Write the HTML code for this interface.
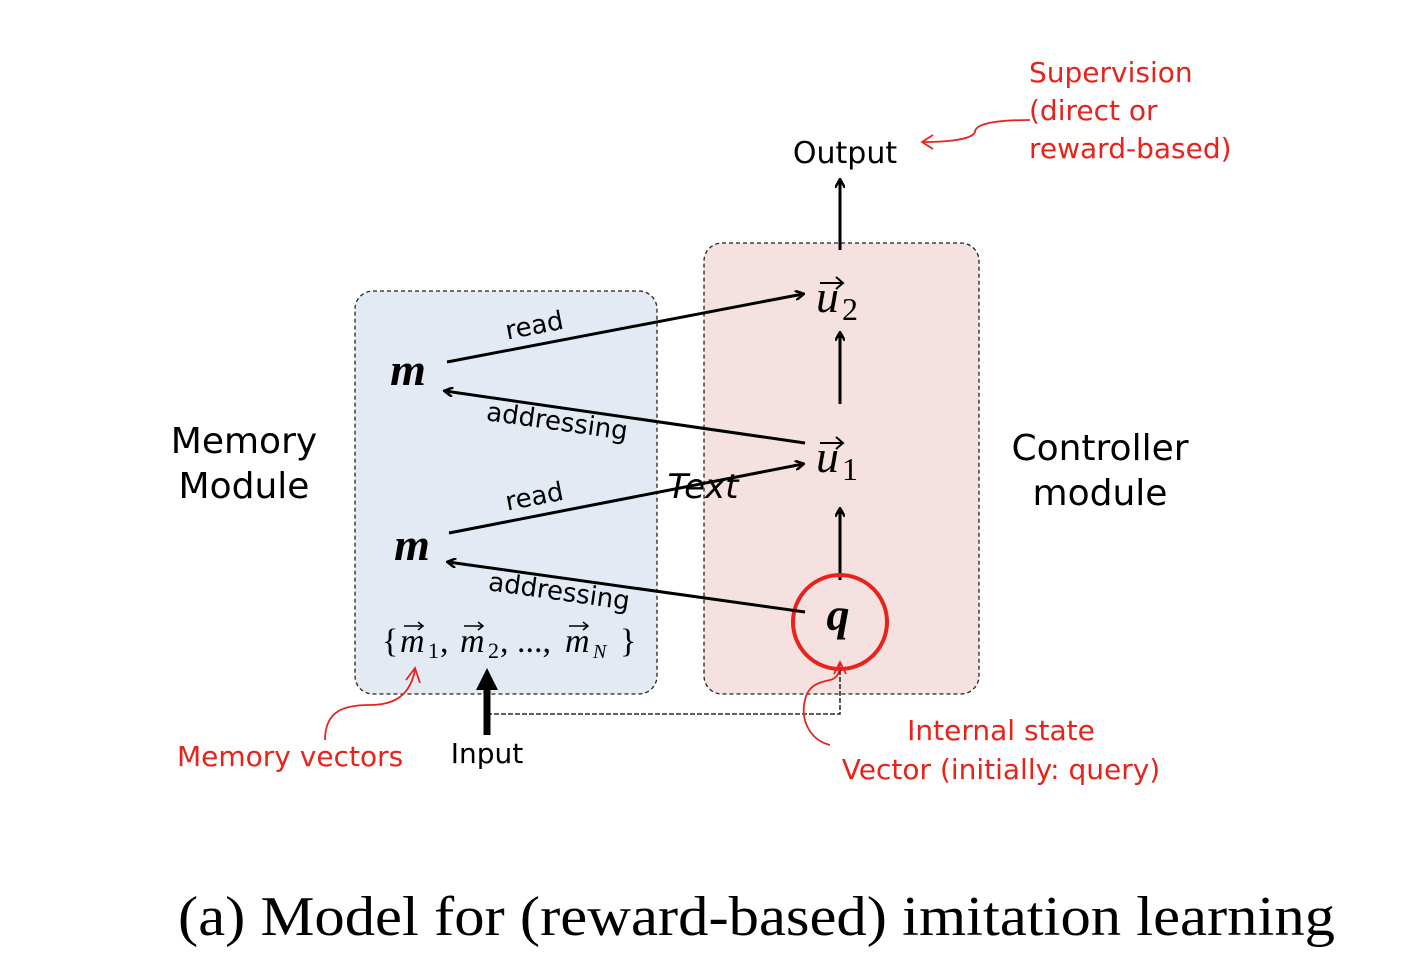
<!DOCTYPE html>
<html><head><meta charset="utf-8"><style>
html,body{margin:0;padding:0;background:#fff;}
svg{display:block;}
.s{font-family:"DejaVu Sans","Liberation Sans",sans-serif;}
.r{font-family:"Liberation Serif",serif;}
</style></head><body>
<svg width="1402" height="972" viewBox="0 0 1402 972" xmlns="http://www.w3.org/2000/svg">
<defs>
<marker id="a" markerWidth="10" markerHeight="10" refX="8" refY="5" orient="auto" markerUnits="userSpaceOnUse"><path d="M0,0 L9,5 L0,10" fill="none" stroke="#000" stroke-width="2.5"/></marker>
</defs>
<rect x="355" y="291" width="302" height="403" rx="18" fill="#e3eaf3" stroke="#222" stroke-width="1.3" stroke-dasharray="4,3"/>
<rect x="704" y="243" width="275" height="451" rx="18" fill="#f5e1df" stroke="#222" stroke-width="1.3" stroke-dasharray="4,3"/>

<text x="845" y="163" class="s" font-size="30" text-anchor="middle">Output</text>
<line x1="840" y1="250" x2="840" y2="180" stroke="#000" stroke-width="3" marker-end="url(#a)"/>
<line x1="840" y1="404" x2="840" y2="333" stroke="#000" stroke-width="3" marker-end="url(#a)"/>
<line x1="840" y1="580" x2="840" y2="509" stroke="#000" stroke-width="3" marker-end="url(#a)"/>

<text x="816" y="312" class="r" font-size="46" font-style="italic">u</text><text x="842" y="320" class="r" font-size="32">2</text>
<path d="M820,283 L842,283 M836,277 L843,283 L836,289" fill="none" stroke="#000" stroke-width="2"/>
<text x="816" y="472" class="r" font-size="46" font-style="italic">u</text><text x="842" y="480" class="r" font-size="32">1</text>
<path d="M820,443 L842,443 M836,437 L843,443 L836,449" fill="none" stroke="#000" stroke-width="2"/>

<circle cx="840" cy="622" r="47" fill="none" stroke="#e8231b" stroke-width="4"/>
<text x="838" y="630" class="r" font-size="46" font-style="italic" font-weight="bold" text-anchor="middle">q</text>

<text x="408" y="385" class="r" font-size="46" font-style="italic" font-weight="bold" text-anchor="middle">m</text>
<text x="412" y="560" class="r" font-size="46" font-style="italic" font-weight="bold" text-anchor="middle">m</text>

<line x1="447" y1="362" x2="803" y2="294" stroke="#000" stroke-width="3" marker-end="url(#a)"/>
<line x1="805" y1="443" x2="445" y2="391" stroke="#000" stroke-width="3" marker-end="url(#a)"/>
<line x1="449" y1="533" x2="803" y2="464" stroke="#000" stroke-width="3" marker-end="url(#a)"/>
<line x1="805" y1="612" x2="448" y2="562" stroke="#000" stroke-width="3" marker-end="url(#a)"/>

<text x="536" y="334" class="s" font-size="26" text-anchor="middle" transform="rotate(-11 536 334)">read</text>
<text x="556" y="430" class="s" font-size="26" text-anchor="middle" transform="rotate(8 556 430)">addressing</text>
<text x="536" y="505" class="s" font-size="26" text-anchor="middle" transform="rotate(-11 536 505)">read</text>
<text x="558" y="600" class="s" font-size="26" text-anchor="middle" transform="rotate(8 558 600)">addressing</text>
<text x="703" y="498" class="s" font-size="34" font-style="italic" text-anchor="middle">Text</text>

<g class="r" font-size="34">
<text x="382" y="652">{</text>
<text x="400" y="652" font-style="italic">m</text><text x="428" y="658" font-size="22">1</text><text x="440" y="652">,</text>
<text x="460" y="652" font-style="italic">m</text><text x="488" y="658" font-size="22">2</text><text x="500" y="652">, ...,</text>
<text x="565" y="652" font-style="italic">m</text><text x="593" y="658" font-size="20" font-style="italic">N</text>
<text x="620" y="652">}</text>
</g>
<g fill="none" stroke="#000" stroke-width="1.5">
<path d="M404,626 L422,626 M418,622 L423,626 L418,630"/>
<path d="M464,626 L482,626 M478,622 L483,626 L478,630"/>
<path d="M569,626 L587,626 M583,622 L588,626 L583,630"/>
</g>

<line x1="487" y1="735" x2="487" y2="685" stroke="#000" stroke-width="7"/>
<path d="M476,690 L487,668 L498,690 Z" fill="#000"/>
<path d="M487,714 L840,714 L840,668" fill="none" stroke="#000" stroke-width="1.3" stroke-dasharray="5,2"/>

<text x="487" y="763" class="s" font-size="28" text-anchor="middle">Input</text>
<text x="244" y="453" class="s" font-size="36" text-anchor="middle">Memory</text>
<text x="244" y="498" class="s" font-size="36" text-anchor="middle">Module</text>
<text x="1100" y="460" class="s" font-size="36" text-anchor="middle">Controller</text>
<text x="1100" y="505" class="s" font-size="36" text-anchor="middle">module</text>

<g fill="#e8231b" class="s" font-size="28">
<text x="1029" y="82">Supervision</text>
<text x="1029" y="120">(direct or</text>
<text x="1029" y="158">reward-based)</text>
<text x="177" y="766">Memory vectors</text>
<text x="1001" y="740" text-anchor="middle">Internal state</text>
<text x="1001" y="779" text-anchor="middle">Vector (initially: query)</text>
</g>
<g fill="none" stroke="#e8231b" stroke-width="1.8">
<path d="M1030,120 C990,120 975,125 975,132 C972,140 945,142 924,142"/>
<path d="M933,135 L922,142 L933,149"/>
<path d="M325,740 C325,710 345,705 370,705 C395,705 410,695 415,670"/>
<path d="M406,680 L415,668 L420,683"/>
<path d="M830,745 C810,740 800,720 805,700 C808,685 820,682 830,680 C838,678 840,672 840,662"/>
<path d="M834,674 L840,662 L846,674"/>
</g>

<text x="178" y="935" class="r" font-size="56" textLength="1157" lengthAdjust="spacingAndGlyphs">(a) Model for (reward-based) imitation learning</text>
</svg>
</body></html>
